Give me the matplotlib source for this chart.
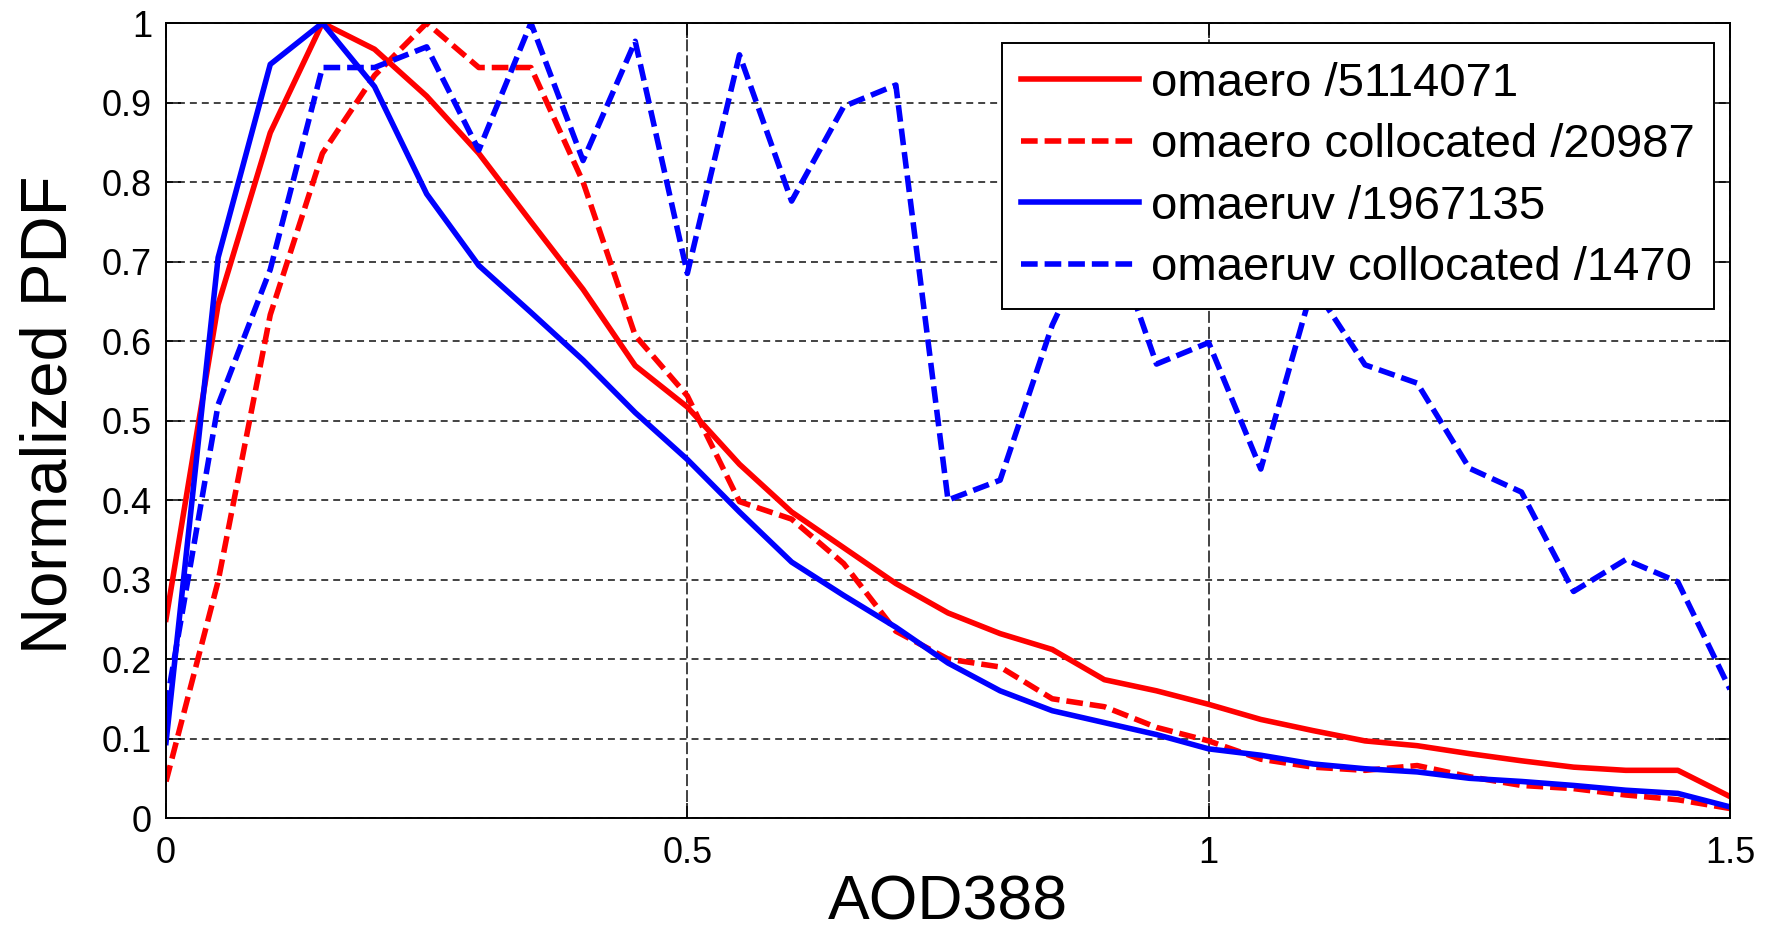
import numpy as np
import matplotlib
matplotlib.use("Agg")
from matplotlib import pyplot as plt

# AOD388 bins
aod = [0.00, 0.05, 0.10, 0.15, 0.20, 0.25, 0.30, 0.35, 0.40, 0.45, 0.50,
       0.55, 0.60, 0.65, 0.70, 0.75, 0.80, 0.85, 0.90, 0.95, 1.00,
       1.05, 1.10, 1.15, 1.20, 1.25, 1.30, 1.35, 1.40, 1.45, 1.50]

omaero = [0.25, 0.646, 0.862, 1.0, 0.967, 0.908, 0.836, 0.75, 0.665, 0.569, 0.517,
          0.445, 0.385, 0.34, 0.295, 0.258, 0.232, 0.212, 0.174, 0.16, 0.143,
          0.124, 0.11, 0.097, 0.091, 0.081, 0.072, 0.064, 0.06, 0.06, 0.027]

omaero_col = [0.046, 0.298, 0.633, 0.836, 0.934, 1.0, 0.944, 0.944, 0.80, 0.607, 0.531,
              0.398, 0.376, 0.32, 0.235, 0.20, 0.19, 0.15, 0.14, 0.114, 0.097,
              0.074, 0.064, 0.06, 0.066, 0.052, 0.041, 0.037, 0.029, 0.023, 0.012]

omaeruv = [0.095, 0.705, 0.948, 1.0, 0.92, 0.785, 0.695, 0.636, 0.576, 0.51, 0.451,
           0.385, 0.322, 0.28, 0.24, 0.195, 0.16, 0.135, 0.12, 0.105, 0.087,
           0.079, 0.068, 0.062, 0.058, 0.05, 0.046, 0.041, 0.035, 0.031, 0.014]

omaeruv_col = [0.14, 0.52, 0.69, 0.944, 0.944, 0.97, 0.84, 1.0, 0.827, 0.977, 0.685,
               0.96, 0.776, 0.895, 0.922, 0.40, 0.425, 0.62, 0.76, 0.571, 0.598,
               0.439, 0.67, 0.57, 0.547, 0.44, 0.41, 0.285, 0.325, 0.297, 0.162]

labels = ['omaero /5114071', 'omaero collocated /20987',
          'omaeruv /1967135', 'omaeruv collocated /1470']

yticks = [0, 0.1, 0.2, 0.3, 0.4, 0.5, 0.6, 0.7, 0.8, 0.9, 1]
ytick_labels = ['0', '0.1', '0.2', '0.3', '0.4', '0.5', '0.6', '0.7', '0.8', '0.9', '1']
xticks = [0, 0.5, 1, 1.5]
xtick_labels = ['0', '0.5', '1', '1.5']

plt.rcParams['font.family'] = ['Liberation Sans', 'DejaVu Sans']
plt.rcParams['lines.scale_dashes'] = False

fig = plt.figure(figsize=(17.66, 9.35), dpi=100)
ax = fig.add_axes([0.094, 0.1251, 0.8856, 0.8503])

lw = 4.0
dash = (0, (12, 5))
ax.plot(aod, omaero, color='#ff0000', lw=lw, label=labels[0])
ax.plot(aod, omaero_col, color='#ff0000', lw=lw, linestyle=dash, label=labels[1])
ax.plot(aod, omaeruv, color='#0000ff', lw=lw, label=labels[2])
ax.plot(aod, omaeruv_col, color='#0000ff', lw=lw, linestyle=dash, label=labels[3])

ax.set_xlim(0, 1.5)
ax.set_ylim(0, 1)
ax.set_xticks(xticks)
ax.set_xticklabels(xtick_labels)
ax.set_yticks(yticks)
ax.set_yticklabels(ytick_labels)

ax.xaxis.grid(True, color='#222222', lw=1.2, linestyle=(0, (8.6, 2.9)))
ax.yaxis.grid(True, color='#222222', lw=1.2, linestyle=(0, (5, 3.6)))
ax.set_axisbelow(True)

ax.tick_params(direction='in', length=11, width=1.1, top=True, right=True,
               labelsize=26, colors='black')
ax.tick_params(axis='x', pad=13)
ax.tick_params(axis='y', pad=10)
for s in ax.spines.values():
    s.set_linewidth(1.4)
    s.set_color('black')

# keep the whole label box inside the figure
ax.set_xlabel('AOD388', fontsize=45)
ax.xaxis.label.set_va('bottom')
ax.xaxis.set_label_coords(0.5, -0.1435)
ax.set_ylabel('Normalized PDF', fontsize=47)
ax.yaxis.label.set_va('baseline')
ax.yaxis.set_label_coords(-0.0637, 0.5075)

leg = ax.legend(loc='upper right', bbox_to_anchor=(0.9898, 0.9748), borderaxespad=0,
                fontsize=34, fancybox=False, framealpha=1, edgecolor='black',
                handlelength=2.5, handletextpad=0.27, labelspacing=0.37, borderpad=0.4)
leg.get_frame().set_linewidth(1.4)

fig.savefig('out.png', dpi=100)
